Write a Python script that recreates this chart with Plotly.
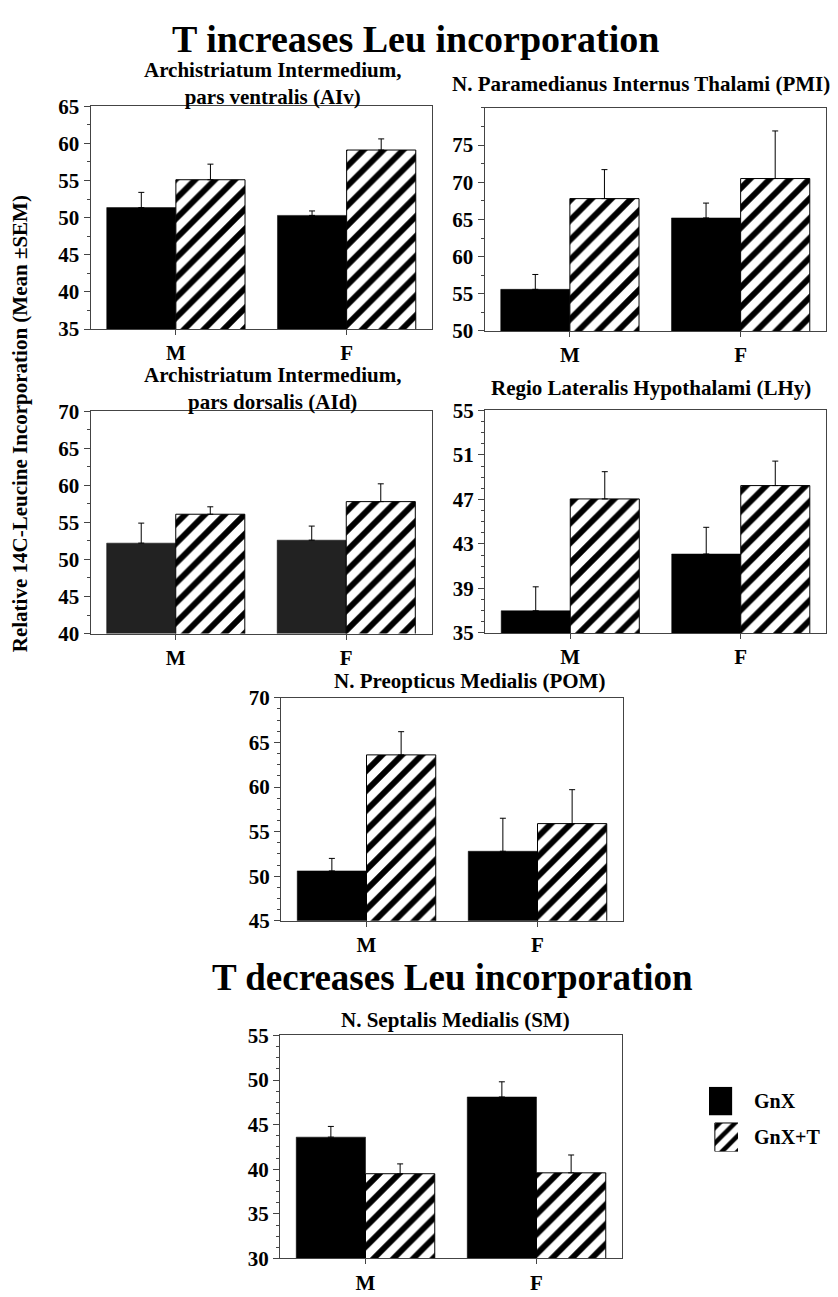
import plotly.graph_objects as go

W, H = 838, 1297
FONT = "Liberation Serif"

categories = ["M", "F"]

# Archistriatum Intermedium, pars ventralis (AIv)
aiv_gnx = [51.35, 50.3]
aiv_gnx_sem = [2.05, 0.6]
aiv_gnxt = [55.1, 59.1]
aiv_gnxt_sem = [2.1, 1.5]

# N. Paramedianus Internus Thalami (PMI)
pmi_gnx = [55.6, 65.2]
pmi_gnx_sem = [2.0, 2.0]
pmi_gnxt = [67.8, 70.5]
pmi_gnxt_sem = [3.9, 6.4]

# Archistriatum Intermedium, pars dorsalis (AId)
aid_gnx = [52.2, 52.6]
aid_gnx_sem = [2.7, 1.9]
aid_gnxt = [56.1, 57.8]
aid_gnxt_sem = [1.0, 2.4]

# Regio Lateralis Hypothalami (LHy)
lhy_gnx = [37.0, 42.1]
lhy_gnx_sem = [2.15, 2.4]
lhy_gnxt = [47.05, 48.25]
lhy_gnxt_sem = [2.45, 2.2]

# N. Preopticus Medialis (POM)
pom_gnx = [50.6, 52.8]
pom_gnx_sem = [1.4, 3.7]
pom_gnxt = [63.6, 55.9]
pom_gnxt_sem = [2.6, 3.8]

# N. Septalis Medialis (SM)
sm_gnx = [43.6, 48.1]
sm_gnx_sem = [1.2, 1.7]
sm_gnxt = [39.5, 39.6]
sm_gnxt_sem = [1.1, 2.0]

titles = [
    "Archistriatum Intermedium,<br>pars ventralis (AIv)",
    "N. Paramedianus Internus Thalami (PMI)",
    "Archistriatum Intermedium,<br>pars dorsalis (AId)",
    "Regio Lateralis Hypothalami (LHy)",
    "N. Preopticus Medialis (POM)",
    "N. Septalis Medialis (SM)",
]
y_ranges = [[35, 65], [50, 80], [40, 70], [35, 55], [45, 70], [30, 55]]
y_tickvals = [
    [35, 40, 45, 50, 55, 60, 65],
    [50, 55, 60, 65, 70, 75],
    [40, 45, 50, 55, 60, 65, 70],
    [35, 39, 43, 47, 51, 55],
    [45, 50, 55, 60, 65, 70],
    [30, 35, 40, 45, 50, 55],
]
y_minor = [2.5, 2.5, 2.5, 1, 1.25, 1.25]
series_label = ["GnX", "GnX+T"]
headings = ["T increases Leu incorporation", "T decreases Leu incorporation"]
y_title = "Relative 14C-Leucine Incorporation (Mean ±SEM)"

gnx_vals = [aiv_gnx, pmi_gnx, aid_gnx, lhy_gnx, pom_gnx, sm_gnx]
gnx_sems = [aiv_gnx_sem, pmi_gnx_sem, aid_gnx_sem, lhy_gnx_sem, pom_gnx_sem, sm_gnx_sem]
gnxt_vals = [aiv_gnxt, pmi_gnxt, aid_gnxt, lhy_gnxt, pom_gnxt, sm_gnxt]
gnxt_sems = [aiv_gnxt_sem, pmi_gnxt_sem, aid_gnxt_sem, lhy_gnxt_sem, pom_gnxt_sem, sm_gnxt_sem]

# layout (pixels)
x_px = [(90.5, 432), (484.5, 826), (90.5, 431.5), (485, 826), (281, 623), (280, 622)]
y_px = [(96, 323), (97.7, 325), (406.7, 633.3), (406, 632.7), (698.7, 926), (1042.7, 1270)]
title_px = [(272, 73), (641, 73), (272, 384), (651, 383), (469, 682), (455, 1027)]
gnx_colors = ["black", "black", "#222222", "black", "black", "black"]


def dx(a, b):
    return [a / W, b / W]


def dy(top, bottom):
    return [1 - bottom / H, 1 - top / H]


fig = go.Figure()
tickf = dict(family=FONT, size=21, color="black", weight="bold")

for i in range(6):
    n = i + 1
    xa, ya = f"x{n}", f"y{n}"
    fig.add_trace(go.Bar(
        x=categories, y=gnx_vals[i], name=series_label[0], xaxis=xa, yaxis=ya,
        offsetgroup="a", showlegend=False,
        marker=dict(color=gnx_colors[i], line=dict(color="black", width=0.5)),
        error_y=dict(type="data", symmetric=False, array=gnx_sems[i], arrayminus=[0, 0],
                     color="black", thickness=1, width=3),
    ))
    fig.add_trace(go.Bar(
        x=categories, y=gnxt_vals[i], name=series_label[1], xaxis=xa, yaxis=ya,
        offsetgroup="b", showlegend=False,
        marker=dict(color="white", line=dict(color="black", width=1),
                    pattern=dict(shape="/", fgcolor="black", bgcolor="white",
                                 size=14, solidity=0.42, fillmode="replace")),
        error_y=dict(type="data", symmetric=False, array=gnxt_sems[i], arrayminus=[0, 0],
                     color="black", thickness=1, width=3),
    ))
    sfx = "" if n == 1 else str(n)
    fig.layout["xaxis" + sfx] = dict(
        domain=dx(*x_px[i]), anchor=ya, type="category", range=[-0.5, 1.5],
        showline=True, mirror=True, linecolor="#444", linewidth=1,
        ticks="outside", ticklen=5, tickcolor="#444", tickfont=tickf,
        showgrid=False, zeroline=False, fixedrange=True,
    )
    fig.layout["yaxis" + sfx] = dict(
        domain=dy(*y_px[i]), anchor=xa, range=y_ranges[i],
        tickmode="array", tickvals=y_tickvals[i],
        showline=True, mirror=True, linecolor="#444", linewidth=1,
        ticks="outside", ticklen=6, tickcolor="#444", tickfont=tickf,
        minor=dict(tickmode="linear", tick0=y_ranges[i][0], dtick=y_minor[i],
                   ticks="outside", ticklen=3, tickcolor="#444", showgrid=False),
        showgrid=False, zeroline=False, fixedrange=True,
    )
    tx, ty = title_px[i]
    fig.add_annotation(x=tx / W, y=1 - ty / H, xref="paper", yref="paper",
                       text=titles[i], showarrow=False, xanchor="center", yanchor="middle",
                       font=dict(family=FONT, size=21, color="black", weight="bold"))

# legend swatches (hidden helper axes)
fig.add_trace(go.Bar(x=[0], y=[1], base=[1.27], width=[1], xaxis="x7", yaxis="y7",
                     showlegend=False, marker=dict(color="black", line=dict(width=0)),
                     hoverinfo="skip"))
fig.add_trace(go.Bar(x=[0], y=[1], base=[0], width=[1], xaxis="x7", yaxis="y7",
                     showlegend=False, hoverinfo="skip",
                     marker=dict(color="white", line=dict(color="black", width=1),
                                 pattern=dict(shape="/", fgcolor="black", bgcolor="white",
                                              size=11, solidity=0.42, fillmode="replace"))))
fig.layout["xaxis7"] = dict(domain=dx(709, 738), anchor="y7", range=[-0.5, 0.5],
                            visible=False, fixedrange=True)
fig.layout["yaxis7"] = dict(domain=dy(1095, 1161), anchor="x7", range=[0, 2.27],
                            visible=False, fixedrange=True)
for lbl, yy in zip(series_label, [1110, 1146]):
    fig.add_annotation(x=752 / W, y=1 - yy / H, xref="paper", yref="paper", text=lbl,
                       showarrow=False, xanchor="left", yanchor="middle",
                       font=dict(family=FONT, size=20, color="black", weight="bold"))

# main headings
for txt, (cx, cy), fs in zip(headings, [(415, 27), (453, 984)], [38, 37]):
    fig.add_annotation(x=cx / W, y=1 - cy / H, xref="paper", yref="paper", text=txt,
                       showarrow=False, xanchor="center", yanchor="middle",
                       font=dict(family=FONT, size=fs, color="black", weight="bold"))

# shared y title
fig.add_annotation(x=20 / W, y=1 - 420 / H, xref="paper", yref="paper", text=y_title,
                   textangle=-90, showarrow=False, xanchor="center", yanchor="middle",
                   font=dict(family=FONT, size=21, color="black", weight="bold"))

fig.update_layout(
    width=W, height=H, margin=dict(l=0, r=0, t=0, b=0),
    paper_bgcolor="white", plot_bgcolor="white",
    barmode="group", bargap=0.19, bargroupgap=0, showlegend=False,
    font=dict(family=FONT, color="black"),
)

fig.write_html("out.html", config={"displayModeBar": False},
               post_script="document.body.style.margin='0';")
